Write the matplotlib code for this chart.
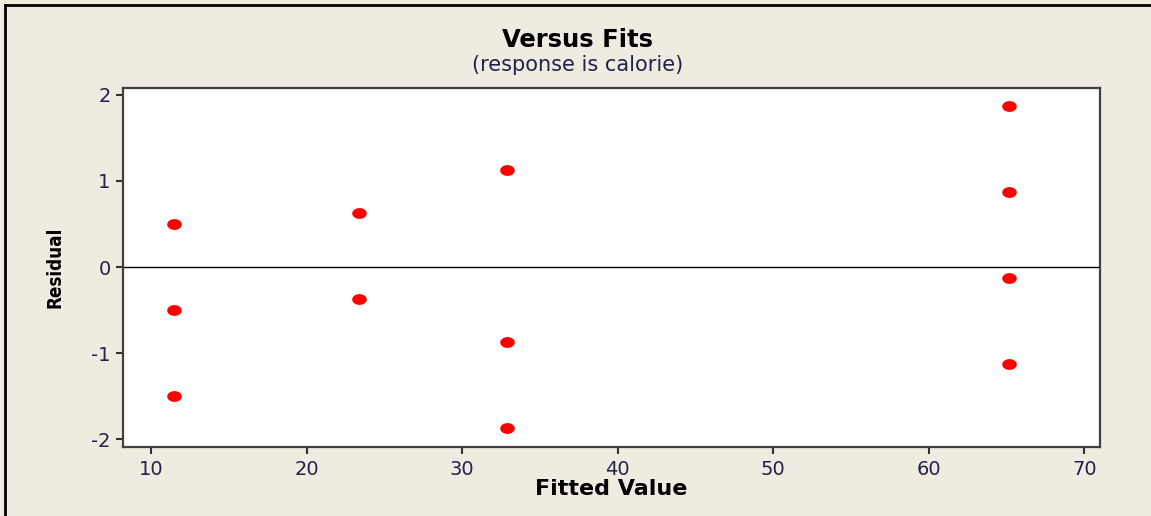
import numpy as np
import matplotlib
matplotlib.use('Agg')
import matplotlib.pyplot as plt
from matplotlib.lines import Line2D
from matplotlib.path import Path

plt.rcParams['axes.unicode_minus'] = False

# Fitted values and residuals (response is calorie)
fits = [11.5, 11.5, 11.5,
        23.375, 23.375,
        32.875, 32.875, 32.875,
        65.125, 65.125, 65.125, 65.125]
resid = [0.5, -0.5, -1.5,
         0.625, -0.375,
         1.125, -0.875, -1.875,
         1.875, 0.875, -0.125, -1.125]

x_ticks = [10, 20, 30, 40, 50, 60, 70]
y_ticks = [-2, -1, 0, 1, 2]

bg = '#efebe1'
tick_col = '#22224a'

# slightly flattened dot, like the Minitab symbol
t = np.linspace(0, 2 * np.pi, 40)
dot = Path(np.column_stack([1.35 * np.cos(t), np.sin(t)]), closed=True)

fig = plt.figure(figsize=(11.51, 5.16), dpi=100, facecolor=bg)
ax = fig.add_axes([0.1069, 0.1337, 0.8488, 0.6958])
ax.set_facecolor('white')

ax.axhline(0, color='black', lw=1.0, zorder=1)
ax.plot(fits, resid, linestyle='none', marker=dot, color='red',
        markersize=10.5, markeredgewidth=0, zorder=3)

ax.set_xlim(8.2, 71.0)
ax.set_ylim(-2.09, 2.08)
ax.set_xticks(x_ticks)
ax.set_yticks(y_ticks)
ax.tick_params(direction='out', length=5, width=1.5, color='#333333',
               labelsize=14, labelcolor=tick_col, pad=4)
for s in ax.spines.values():
    s.set_color('#404040')
    s.set_linewidth(1.6)

ax.set_xlabel('Fitted Value', fontsize=16, fontweight='bold', labelpad=0)
ax.set_ylabel('Residual', fontsize=13.5, fontweight='bold',
              family='DejaVu Sans', fontstretch='condensed', labelpad=19)

fig.text(0.502, 0.922, 'Versus Fits', ha='center', va='center',
         fontsize=17.5, fontweight='bold')
fig.text(0.502, 0.874, '(response is calorie)', ha='center', va='center',
         fontsize=15, color=tick_col)

# outer frame (top and left edges)
fig.add_artist(Line2D([0.004, 1.0], [0.991, 0.991], color='black', lw=2,
                      transform=fig.transFigure))
fig.add_artist(Line2D([0.004, 0.004], [0.0, 0.991], color='black', lw=2,
                      transform=fig.transFigure))

fig.savefig('out.png', dpi=100, facecolor=bg)
